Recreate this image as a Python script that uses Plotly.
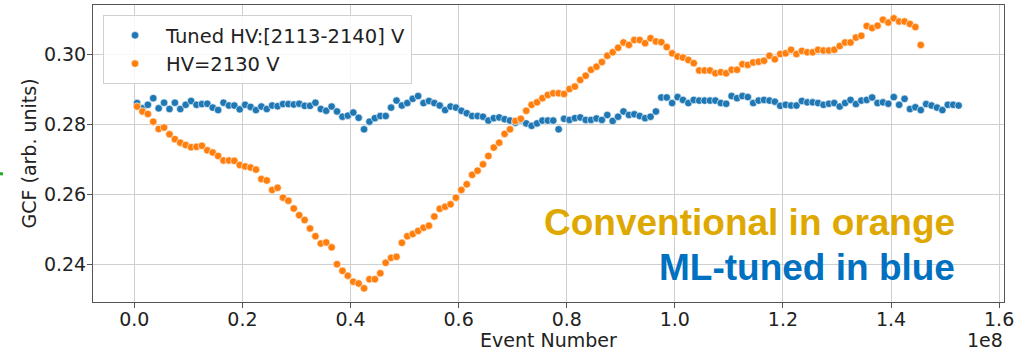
import numpy as np
import plotly.graph_objects as go

# ---------------- data ----------------
bin_width = 1e6  # events per point

gcf_tuned = [
    0.2861, 0.2846, 0.2856, 0.2875, 0.2846, 0.2862, 0.2844, 0.2862, 0.2844, 0.2856,
    0.2867, 0.2856, 0.2858, 0.2859, 0.2848, 0.2841, 0.2862, 0.2854, 0.2854, 0.2843,
    0.2856, 0.2850, 0.2841, 0.2851, 0.2844, 0.2854, 0.2852, 0.2858, 0.2858, 0.2857,
    0.2859, 0.2853, 0.2853, 0.2862, 0.2844, 0.2839, 0.2851, 0.2837, 0.2822, 0.2825,
    0.2834, 0.2819, 0.2786, 0.2808, 0.2818, 0.2824, 0.2824, 0.2848, 0.2868, 0.2854,
    0.2861, 0.2873, 0.2881, 0.2861, 0.2867, 0.2861, 0.2854, 0.2841, 0.2851, 0.2848,
    0.2839, 0.2832, 0.2824, 0.2824, 0.2822, 0.2811, 0.2818, 0.2820, 0.2815, 0.2811,
    0.2805, 0.2813, 0.2803, 0.2796, 0.2803, 0.2811, 0.2811, 0.2811, 0.2786, 0.2816,
    0.2813, 0.2818, 0.2820, 0.2813, 0.2813, 0.2817, 0.2813, 0.2827, 0.2810, 0.2822,
    0.2837, 0.2827, 0.2829, 0.2824, 0.2818, 0.2822, 0.2837, 0.2877, 0.2877, 0.2861,
    0.2878, 0.2870, 0.2861, 0.2870, 0.2868, 0.2868, 0.2868, 0.2868, 0.2861, 0.2859,
    0.2881, 0.2875, 0.2881, 0.2878, 0.2861, 0.2868, 0.2870, 0.2868, 0.2865, 0.2853,
    0.2856, 0.2854, 0.2854, 0.2867, 0.2863, 0.2863, 0.2861, 0.2856, 0.2859, 0.2861,
    0.2851, 0.2861, 0.2870, 0.2858, 0.2868, 0.2870, 0.2877, 0.2861, 0.2863, 0.2859,
    0.2878, 0.2856, 0.2873, 0.2844, 0.2849, 0.2841, 0.2858, 0.2854, 0.2848, 0.2841,
    0.2856, 0.2856, 0.2854,
]

gcf_fixed = [
    0.2851, 0.2837, 0.2830, 0.2808, 0.2787, 0.2791, 0.2772, 0.2758, 0.2748, 0.2741,
    0.2735, 0.2736, 0.2739, 0.2726, 0.2720, 0.2710, 0.2697, 0.2697, 0.2696, 0.2684,
    0.2680, 0.2677, 0.2671, 0.2644, 0.2640, 0.2613, 0.2619, 0.2591, 0.2582, 0.2560,
    0.2541, 0.2527, 0.2503, 0.2481, 0.2460, 0.2463, 0.2449, 0.2401, 0.2382, 0.2368,
    0.2351, 0.2346, 0.2332, 0.2358, 0.2358, 0.2375, 0.2405, 0.2419, 0.2422, 0.2462,
    0.2481, 0.2487, 0.2496, 0.2505, 0.2511, 0.2537, 0.2559, 0.2565, 0.2572, 0.2591,
    0.2613, 0.2629, 0.2656, 0.2668, 0.2686, 0.2710, 0.2734, 0.2748, 0.2773, 0.2786,
    0.2810, 0.2816, 0.2839, 0.2856, 0.2863, 0.2875, 0.2884, 0.2889, 0.2889, 0.2887,
    0.2901, 0.2908, 0.2927, 0.2939, 0.2956, 0.2965, 0.2978, 0.2996, 0.3006, 0.3019,
    0.3034, 0.3027, 0.3041, 0.3041, 0.3032, 0.3046, 0.3037, 0.3035, 0.3021, 0.3003,
    0.2994, 0.2991, 0.2984, 0.2975, 0.2954, 0.2954, 0.2954, 0.2946, 0.2949, 0.2946,
    0.2956, 0.2956, 0.2972, 0.2970, 0.2977, 0.2979, 0.2982, 0.2996, 0.2986, 0.3001,
    0.3003, 0.3013, 0.3001, 0.3010, 0.3006, 0.3006, 0.3013, 0.3011, 0.3011, 0.3013,
    0.3024, 0.3034, 0.3034, 0.3048, 0.3053, 0.3081, 0.3075, 0.3082, 0.3099, 0.3091,
    0.3103, 0.3094, 0.3094, 0.3087, 0.3078, 0.3027,
]

event_tuned = (np.arange(len(gcf_tuned)) + 0.5) * bin_width
event_fixed = (np.arange(len(gcf_fixed)) + 0.5) * bin_width

series_names = ["Tuned HV:[2113-2140] V", "HV=2130 V"]
x_tick_vals = [0.0, 0.2e8, 0.4e8, 0.6e8, 0.8e8, 1.0e8, 1.2e8, 1.4e8, 1.6e8]
x_tick_text = ["0.0", "0.2", "0.4", "0.6", "0.8", "1.0", "1.2", "1.4", "1.6"]
y_tick_vals = [0.24, 0.26, 0.28, 0.30]
y_tick_text = ["0.24", "0.26", "0.28", "0.30"]

# ---------------- figure ----------------
BLUE = "#1f77b4"
ORANGE = "#ff7f0e"
FONT = "DejaVu Sans"
FS = 19
TXT = "#222222"

fig = go.Figure()
fig.add_trace(go.Scatter(
    x=event_tuned, y=gcf_tuned, mode="markers", name=series_names[0],
    marker=dict(color=BLUE, size=7.5, line=dict(color="white", width=0.6)),
))
fig.add_trace(go.Scatter(
    x=event_fixed, y=gcf_fixed, mode="markers", name=series_names[1],
    marker=dict(color=ORANGE, size=7.5, line=dict(color="white", width=0.6)),
))

axis_common = dict(
    showgrid=True, gridcolor="#cfcfcf", gridwidth=1,
    showline=True, linecolor="#555555", linewidth=1, mirror=True,
    ticks="outside", ticklen=5, tickcolor="#555555", tickwidth=1,
    zeroline=False,
    tickfont=dict(family=FONT, size=FS, color=TXT),
)

fig.update_layout(
    width=1025, height=351,
    margin=dict(l=93, r=21, t=5, b=49),
    paper_bgcolor="white", plot_bgcolor="white",
    font=dict(family=FONT, size=FS, color=TXT),
    xaxis=dict(range=[-0.0765e8, 1.609e8], tickmode="array",
               tickvals=x_tick_vals, ticktext=x_tick_text,
               ticklabelstandoff=-5, **axis_common),
    yaxis=dict(range=[0.2293, 0.3141], tickmode="array",
               tickvals=y_tick_vals, ticktext=y_tick_text,
               ticklabelstandoff=-3, **axis_common),
    legend=dict(x=0.011, y=0.966, xanchor="left", yanchor="top",
                bgcolor="rgba(255,255,255,0.85)", bordercolor="#d0d0d0",
                borderwidth=1, font=dict(family=FONT, size=19.5, color=TXT),
                itemwidth=52),
    showlegend=True,
)

# axis titles and offset text
fig.add_annotation(text="Event Number", xref="paper", yref="paper",
                   x=0.5, y=-0.128, xanchor="center", yanchor="middle",
                   showarrow=False, font=dict(family=FONT, size=FS, color=TXT))
fig.add_annotation(text="1e8", xref="paper", yref="paper",
                   x=0.979, y=-0.128, xanchor="center", yanchor="middle",
                   showarrow=False, font=dict(family=FONT, size=FS, color=TXT))
fig.add_annotation(text="GCF (arb. units)", xref="paper", yref="paper",
                   x=-0.0703, y=0.5, xanchor="center", yanchor="middle",
                   textangle=-90, showarrow=False,
                   font=dict(family=FONT, size=FS, color=TXT))

# overlay labels
fig.add_annotation(text="<b>Conventional in orange</b>", xref="paper", yref="paper",
                   x=0.9484, y=(302 - 222) / 297, xanchor="right", yanchor="middle",
                   showarrow=False,
                   font=dict(family="Liberation Sans", size=37, color="#DFA800"))
fig.add_annotation(text="<b>ML-tuned in blue</b>", xref="paper", yref="paper",
                   x=0.9484, y=(302 - 267) / 297, xanchor="right", yanchor="middle",
                   showarrow=False,
                   font=dict(family="Liberation Sans", size=37, color="#0070C0"))

# small green mark at the left edge
fig.add_shape(type="rect", xref="paper", yref="paper",
              x0=-0.1021, x1=-0.0988, y0=0.4266, y1=0.4367,
              line=dict(width=0), fillcolor="#22aa22")

fig.write_html("out.html")
